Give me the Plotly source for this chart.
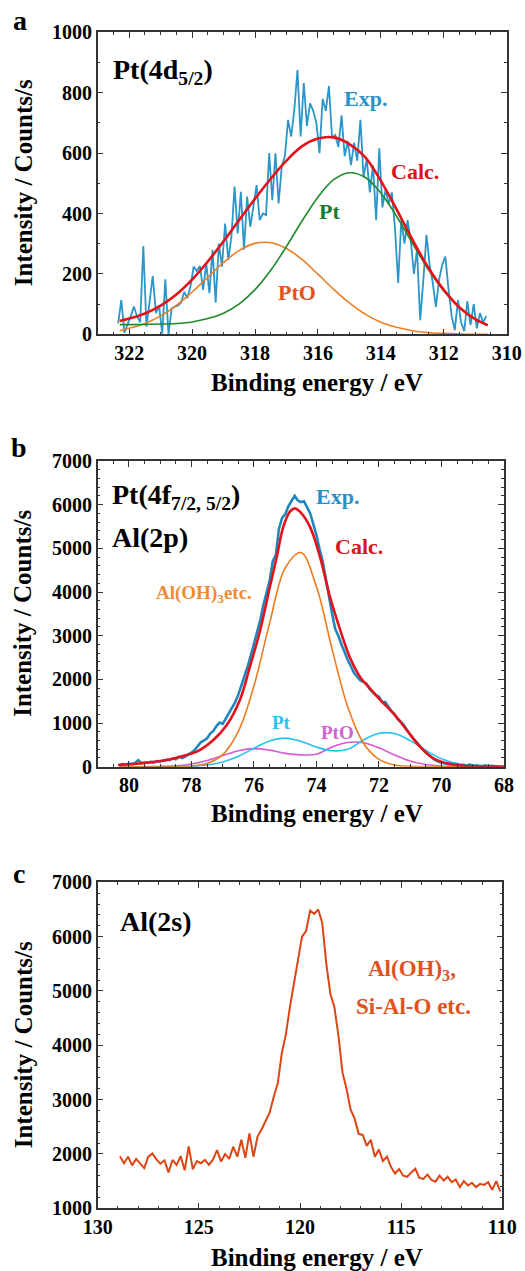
import numpy as np
import plotly.graph_objects as go

W, H = 525, 1271
SERIF = "Liberation Serif"

# ---------------- (a) Pt 4d5/2 region ----------------
a_start, a_step = 322.35, 0.1
a_exp = [36, 113, 5, 30, 60, 92, 60, 40, 292, 25,
         110, 193, 70, 95, 2, 182, 0, 85, 92, 95,
         105, 140, 120, 160, 224, 210, 226, 147, 235, 136,
         280, 105, 300, 224, 367, 246, 323, 489, 334, 472,
         280, 456, 356, 433, 494, 378, 400, 395, 600, 444,
         599, 433, 555, 590, 710, 655, 744, 875, 655, 832,
         690, 765, 740, 700, 600, 780, 740, 822, 650, 660,
         620, 725, 590, 640, 560, 635, 575, 710, 520, 580,
         470, 560, 378, 616, 420, 480, 430, 470, 350, 170,
         380, 300, 378, 312, 200, 280, 47, 180, 329, 230,
         170, 91, 180, 230, 257, 150, 60, 14, 113, 40,
         10, 110, 30, 100, 20, 70, 40, 60]
a_fit_be = [322.3, 322.0, 321.5, 321.0, 320.5, 320.0, 319.5, 319.0, 318.5, 318.0,
            317.5, 317.0, 316.5, 316.0, 315.5, 315.0, 314.5, 314.0, 313.5, 313.0,
            312.5, 312.0, 311.5, 311.0, 310.6]
a_pto = [12, 20, 36, 61, 96, 140, 189, 238, 278, 301,
         303, 284, 247, 199, 149, 104, 67, 40, 23, 12,
         6, 3, 1, 0, 0]
a_pt = [32, 32, 33, 34, 36, 41, 52, 70, 101, 148,
        212, 291, 376, 454, 512, 535, 520, 468, 391, 302,
        216, 144, 88, 50, 30]
a_calc = [44, 52, 69, 95, 132, 181, 241, 308, 379, 449,
          515, 575, 623, 648, 652, 630, 587, 508, 414, 314,
          222, 147, 89, 50, 30]

# ---------------- (b) Pt 4f / Al 2p region ----------------
b_start, b_step = 80.3, 0.1
b_exp = [40, 60, 50, 70, 60, 90, 150, 80, 100, 90,
         110, 100, 130, 120, 140, 160, 150, 190, 170, 230,
         200, 230, 280, 320, 380, 480, 560, 600, 650, 760,
         820, 930, 1010, 980, 1100, 1250, 1350, 1480, 1650, 1850,
         2050, 2300, 2550, 2800, 3100, 3350, 3700, 3950, 4250, 4700,
         4850, 5450, 5700, 5780, 5960, 6080, 6200, 6100, 6060, 6080,
         5950, 5800, 5550, 5300, 4980, 4700, 4300, 3850, 3500, 3150,
         3000, 2800, 2600, 2450, 2300, 2150, 2060, 1980, 1940, 1900,
         1780, 1700, 1640, 1600, 1480, 1480, 1380, 1270, 1200, 1090,
         1030, 950, 830, 720, 640, 560, 470, 400, 320, 260,
         200, 150, 120, 90, 80, 60, 70, 40, 60, 30,
         40, 20, 50, 20, 30, 20, 10, 30, 10, 20,
         10, 5]
b_fit_be = [80.3, 80.0, 79.5, 79.0, 78.5, 78.0, 77.5, 77.0, 76.5, 76.0,
            75.5, 75.0, 74.5, 74.0, 73.5, 73.0, 72.5, 72.0, 71.5, 71.0,
            70.5, 70.0, 69.5, 69.0, 68.5, 68.0]
b_aloh = [0, 0, 0, 0, 2, 15, 73, 276, 811, 1850,
          3288, 4551, 4905, 4118, 2692, 1371, 544, 168, 40, 8,
          1, 0, 0, 0, 0, 0]
b_pt = [0, 0, 0, 0, 2, 10, 37, 106, 239, 423,
        591, 655, 584, 450, 365, 400, 610, 765, 759, 597,
        371, 181, 70, 21, 5, 1]
b_pto = [0, 0, 1, 6, 21, 61, 140, 255, 365, 414,
         379, 306, 271, 285, 453, 554, 549, 432, 268, 131,
         51, 15, 4, 1, 0, 0]
b_calc_be = [80.35, 79.5, 78.8, 78.3, 77.83, 77.3, 76.87, 76.45, 76.13, 75.8,
             75.49, 75.27, 75.06, 74.85, 74.69, 74.53, 74.21, 73.89, 73.57, 73.25,
             72.93, 72.6, 72.3, 72.0, 71.54, 71.11, 70.69, 70.26, 69.73, 69.19,
             68.6, 68.0]
b_calc = [40, 85, 153, 240, 344, 611, 954, 1527, 2290, 3130,
          4122, 4809, 5496, 5840, 5916, 5840, 5496, 4809, 3893, 3150,
          2500, 2050, 1800, 1560, 1221, 840, 458, 191, 61, 15,
          5, 2]

# ---------------- (c) Al 2s region ----------------
c_start, c_step = 128.9, 0.2
c_exp = [1960, 1830, 1950, 1790, 1910, 1820, 1740, 1950, 2010, 1900,
         1820, 1880, 1660, 1890, 1800, 1960, 1700, 2140, 1720, 1870,
         1830, 1890, 1800, 1900, 2070, 1860, 2000, 1910, 2130, 1950,
         2260, 1930, 2380, 1950, 2320, 2450, 2620, 2760, 3050, 3300,
         3850, 4200, 4700, 5150, 5550, 6000, 6100, 6480, 6420, 6500,
         6250, 5500, 4950, 4700, 4180, 3500, 3200, 2820, 2650, 2370,
         2350, 2150, 2260, 1950, 2080, 1870, 1950, 1760, 1640, 1720,
         1600, 1580, 1660, 1730, 1560, 1540, 1620, 1520, 1490, 1600,
         1510, 1580, 1480, 1530, 1390, 1500, 1420, 1470, 1390, 1450,
         1430, 1480, 1340, 1500, 1310]


def grid(start, step, values):
    return np.round(start - step * np.arange(len(values)), 3)


def px(x):
    return x / W


def py(y):
    return 1 - y / H


fig = go.Figure()

# panel a traces
fig.add_trace(go.Scatter(x=grid(a_start, a_step, a_exp), y=a_exp, mode="lines",
                         line=dict(color="#2b96c9", width=1.8), xaxis="x", yaxis="y"))
fig.add_trace(go.Scatter(x=a_fit_be, y=a_pto, mode="lines", line_shape="spline",
                         line=dict(color="#f07d22", width=1.6), xaxis="x", yaxis="y"))
fig.add_trace(go.Scatter(x=a_fit_be, y=a_pt, mode="lines", line_shape="spline",
                         line=dict(color="#1f8a2a", width=1.6), xaxis="x", yaxis="y"))
fig.add_trace(go.Scatter(x=a_fit_be, y=a_calc, mode="lines", line_shape="spline",
                         line=dict(color="#e3121b", width=2.6), xaxis="x", yaxis="y"))

# panel b traces
fig.add_trace(go.Scatter(x=b_fit_be, y=b_pto, mode="lines", line_shape="spline",
                         line=dict(color="#d65ad2", width=1.6), xaxis="x2", yaxis="y2"))
fig.add_trace(go.Scatter(x=b_fit_be, y=b_pt, mode="lines", line_shape="spline",
                         line=dict(color="#27c2ef", width=1.6), xaxis="x2", yaxis="y2"))
fig.add_trace(go.Scatter(x=b_fit_be, y=b_aloh, mode="lines", line_shape="spline",
                         line=dict(color="#f07a1e", width=1.6), xaxis="x2", yaxis="y2"))
fig.add_trace(go.Scatter(x=grid(b_start, b_step, b_exp), y=b_exp, mode="lines",
                         line=dict(color="#1f87be", width=2.6), xaxis="x2", yaxis="y2"))
fig.add_trace(go.Scatter(x=b_calc_be, y=b_calc, mode="lines", line_shape="spline",
                         line=dict(color="#e3121b", width=2.6), xaxis="x2", yaxis="y2"))

# panel c trace
fig.add_trace(go.Scatter(x=grid(c_start, c_step, c_exp), y=c_exp, mode="lines",
                         line=dict(color="#dc4614", width=2.0), xaxis="x3", yaxis="y3"))

tickfont = dict(family=SERIF, size=20, color="black", weight="bold")


def axis_style(rng, dtick, minor_dtick, domain, anchor, tick0=0):
    return dict(range=rng, domain=domain, anchor=anchor, dtick=dtick, tick0=tick0,
                ticks="inside", ticklen=6, tickwidth=1.2, tickcolor="#333",
                minor=dict(dtick=minor_dtick, ticks="inside", ticklen=3,
                           tickwidth=1, tickcolor="#333", showgrid=False),
                showline=True, linecolor="#333", linewidth=1.5, mirror="ticks",
                showgrid=False, zeroline=False, tickfont=tickfont,
                automargin=False, fixedrange=True)


xa_dom = [px(97.7), px(506.7)]
xb_dom = [px(97.7), px(504.0)]
xc_dom = [px(97.7), px(502.3)]
ya_dom = [py(334.3), py(32.3)]
yb_dom = [py(766.7), py(461.0)]
yc_dom = [py(1208.3), py(882.3)]

fig.update_layout(
    width=W, height=H,
    margin=dict(l=0, r=0, t=0, b=0),
    paper_bgcolor="white", plot_bgcolor="white",
    showlegend=False,
    font=dict(family=SERIF, color="black"),
    xaxis=axis_style([323, 310], 2, 0.5, xa_dom, "y", tick0=310),
    yaxis=axis_style([0, 1000], 200, 100, ya_dom, "x"),
    xaxis2=axis_style([81, 68], 2, 0.5, xb_dom, "y2", tick0=68),
    yaxis2=axis_style([0, 7000], 1000, 200, yb_dom, "x2"),
    xaxis3=axis_style([130, 110], 5, 1, xc_dom, "y3", tick0=110),
    yaxis3=axis_style([1000, 7000], 1000, 200, yc_dom, "x3"),
)

ann = []


def label(text, x, y, size, color="black", xanchor="center", yanchor="middle", angle=0):
    ann.append(dict(text=text, x=px(x), y=py(y), xref="paper", yref="paper",
                    xanchor=xanchor, yanchor=yanchor, showarrow=False, textangle=angle,
                    font=dict(family=SERIF, size=size, color=color, weight="bold")))


# panel letters
label("a", 20, 20, 28)
label("b", 19, 447, 28)
label("c", 19, 873, 28)

# axis titles
for ymid, ybot in [((32.3 + 334.3) / 2, 383), ((461 + 766.7) / 2, 813), ((882.3 + 1208.3) / 2, 1257)]:
    label("Intensity / Counts/s", 23, ymid, 25, angle=-90)
    label("Binding energy / eV", 317, ybot, 25)

# panel a labels
label("Pt(4d<sub>5/2</sub>)", 111, 72, 28, xanchor="left")
label("Exp.", 365, 98, 22, "#2b93c6")
label("Calc.", 415, 172, 22, "#d8141c")
label("Pt", 329, 212, 22, "#23792a")
label("PtO", 297, 293, 22, "#e2531c")

# panel b labels
label("Pt(4f<sub>7/2, 5/2</sub>)", 110, 496, 28, xanchor="left")
label("Al(2p)", 110, 537, 28, xanchor="left")
label("Exp.", 337, 496, 22, "#2b8fc6")
label("Calc.", 359, 546, 22, "#d8141c")
label("Al(OH)<sub>3</sub>etc.", 204, 594, 19, "#f08a32")
label("Pt", 281, 722, 19, "#2ec0ee")
label("PtO", 337, 732, 19, "#d062d0")

# panel c labels
label("Al(OH)<sub>3</sub>,", 412, 970, 23, "#e0521e")
label("Si-Al-O etc.", 413, 1006, 23, "#e0521e")
label("Al(2s)", 118, 921, 28, xanchor="left")

fig.update_layout(annotations=ann)

fig.write_html("out.html")
